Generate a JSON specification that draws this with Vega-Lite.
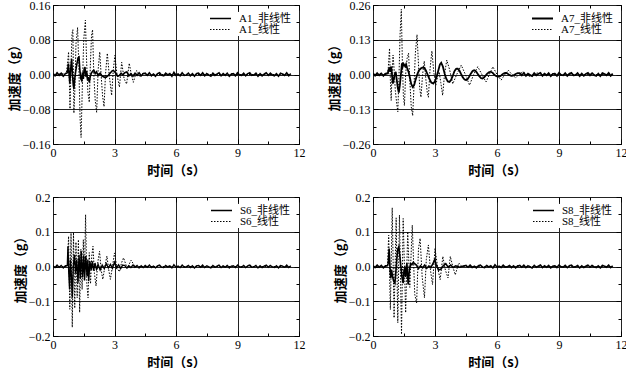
{
"$schema":"https://vega.github.io/schema/vega-lite/v6.json",
"padding":{"left":7,"top":-2,"right":4,"bottom":0},
"background":"white",
"columns":2,
"spacing":{"row":53,"column":74},
"bounds":"flush",
"resolve":{"scale":{"strokeDash":"independent","strokeWidth":"independent"},"legend":{"strokeDash":"independent","strokeWidth":"independent"}},
"config":{
 "view":{"stroke":"black","strokeWidth":1},
 "mark":{"invalid":"filter"},
 "axis":{"labelFont":"Liberation Serif","labelFontSize":12,"labelColor":"black","tickColor":"black","gridColor":"#222","gridWidth":1,"titleFont":"Noto Sans CJK SC","titleFontSize":13,"titleFontWeight":"bold","titleColor":"black","domain":false,"labelPadding":8,"labelFlush":false,"labelOverlap":false},
 "axisX":{"titlePadding":4},
 "axisY":{"titlePadding":1},
 "legend":{"orient":"top-right","offset":7,"padding":1,"fillColor":"white","labelFont":"Liberation Serif, Noto Sans CJK SC","labelFontSize":11,"labelColor":"black","symbolType":"stroke","symbolSize":441,"symbolStrokeColor":"black","labelOffset":7,"clipHeight":11,"rowPadding":-1}
},
"datasets":{
"A1":[
{"t":0,"n":0.002,"l":0},{"t":0.1,"n":-0.003},{"t":0.2,"n":0.004},{"t":0.3,"n":-0.002},{"t":0.4,"n":0.003},{"t":0.5,"n":-0.004},{"t":0.6,"n":0.002},
{"t":0.65,"l":0.002},{"t":0.72,"l":0.03},{"t":0.76,"l":0.052},{"t":0.80,"l":-0.02},{"t":0.83,"l":-0.079},{"t":0.88,"l":0.02},{"t":0.93,"l":0.095},{"t":0.97,"l":0.103},{"t":1.02,"l":-0.089},{"t":1.07,"l":-0.03},{"t":1.12,"l":0.07},{"t":1.20,"l":0.108},{"t":1.26,"l":0.02},{"t":1.32,"l":-0.10},{"t":1.37,"l":-0.145},{"t":1.43,"l":-0.03},{"t":1.50,"l":0.08},{"t":1.58,"l":0.125},{"t":1.64,"l":0.03},{"t":1.70,"l":-0.04},{"t":1.77,"l":-0.064},{"t":1.82,"l":0.02},{"t":1.88,"l":0.09},{"t":1.93,"l":0.103},{"t":1.99,"l":0.0},{"t":2.06,"l":-0.06},{"t":2.13,"l":-0.087},{"t":2.20,"l":0.01},{"t":2.28,"l":0.052},{"t":2.36,"l":-0.01},{"t":2.42,"l":-0.05},{"t":2.49,"l":-0.074},{"t":2.56,"l":0.0},{"t":2.65,"l":0.049},{"t":2.74,"l":0.0},{"t":2.86,"l":-0.048},{"t":2.94,"l":0.01},{"t":3.02,"l":0.044},{"t":3.12,"l":0.0},{"t":3.24,"l":-0.029},{"t":3.35,"l":0.028},{"t":3.47,"l":-0.01},{"t":3.59,"l":-0.022},{"t":3.72,"l":0.026},{"t":3.82,"l":0.0},{"t":3.92,"l":-0.018},{"t":4.08,"l":0.009},{"t":4.25,"l":-0.006},{"t":4.4,"l":0.004},{"t":4.5,"l":0},{"t":11.6,"l":0},
{"t":0.70,"n":0.004},{"t":0.75,"n":0.025},{"t":0.78,"n":0.005},{"t":0.82,"n":-0.02},{"t":0.86,"n":0.01},{"t":0.91,"n":0.036},{"t":0.95,"n":0.0},{"t":0.99,"n":-0.025},{"t":1.02,"n":-0.033},{"t":1.06,"n":-0.01},{"t":1.10,"n":0.005},{"t":1.15,"n":0.02},{"t":1.22,"n":0.038},{"t":1.27,"n":0.04},{"t":1.31,"n":0.01},{"t":1.36,"n":-0.01},{"t":1.40,"n":-0.014},{"t":1.44,"n":0.005},{"t":1.48,"n":-0.01},{"t":1.52,"n":0.012},{"t":1.56,"n":0.017},{"t":1.60,"n":-0.005},{"t":1.64,"n":0.008},{"t":1.68,"n":-0.012},{"t":1.72,"n":-0.006},{"t":1.77,"n":-0.018},{"t":1.82,"n":-0.004},{"t":1.88,"n":0.004},{"t":1.94,"n":0.008},{"t":2.00,"n":0.009},{"t":2.06,"n":0.002},{"t":2.12,"n":0.006},{"t":2.20,"n":-0.002},{"t":2.30,"n":0.003},{"t":2.40,"n":-0.004},{"t":2.50,"n":-0.006},{"t":2.60,"n":-0.006},{"t":2.70,"n":-0.002},{"t":2.80,"n":0.004},{"t":2.88,"n":0.008},{"t":2.94,"n":0.009},{"t":3.00,"n":0.007},{"t":3.08,"n":0.002},{"t":3.16,"n":-0.004},{"t":3.24,"n":-0.002},{"t":3.32,"n":0.003},{"t":3.40,"n":-0.001},{"t":3.50,"n":0.004},{"t":3.60,"n":0.006},{"t":3.70,"n":-0.003},{"t":3.80,"n":0.002},{"t":3.90,"n":-0.004},{"t":4.00,"n":0.003},{"t":4.10,"n":-0.002},{"t":4.20,"n":0.004},{"t":4.30,"n":-0.003},{"t":4.40,"n":0.002},
{"t":4.5,"n":0.003},{"t":4.6,"n":-0.002},{"t":4.7,"n":0.004},{"t":4.8,"n":-0.003},{"t":4.9,"n":0.001},{"t":5.0,"n":-0.004},{"t":5.1,"n":0.002},{"t":5.2,"n":0.004},{"t":5.3,"n":-0.002},{"t":5.4,"n":-0.003},{"t":5.5,"n":0.003},{"t":5.6,"n":-0.001},{"t":5.7,"n":0.002},{"t":5.8,"n":-0.004},{"t":5.9,"n":0.005},{"t":6.0,"n":-0.002},{"t":6.1,"n":0.001},{"t":6.2,"n":-0.003},{"t":6.3,"n":0.004},{"t":6.4,"n":-0.002},{"t":6.5,"n":-0.001},{"t":6.6,"n":0.003},{"t":6.7,"n":-0.003},{"t":6.8,"n":0.002},{"t":6.9,"n":-0.004},{"t":7.0,"n":0.002},{"t":7.1,"n":0.003},{"t":7.2,"n":-0.002},{"t":7.3,"n":0.004},{"t":7.4,"n":-0.003},{"t":7.5,"n":0.002},{"t":7.6,"n":-0.001},{"t":7.7,"n":-0.004},{"t":7.8,"n":0.003},{"t":7.9,"n":-0.002},{"t":8.0,"n":0.001},{"t":8.1,"n":0.004},{"t":8.2,"n":-0.003},{"t":8.3,"n":0.002},{"t":8.4,"n":-0.002},{"t":8.5,"n":0.003},{"t":8.6,"n":-0.004},{"t":8.7,"n":0.001},{"t":8.8,"n":0.002},{"t":8.9,"n":-0.003},{"t":9.0,"n":0.004},{"t":9.1,"n":-0.001},{"t":9.2,"n":-0.002},{"t":9.3,"n":0.003},{"t":9.4,"n":-0.003},{"t":9.5,"n":0.002},{"t":9.6,"n":0.004},{"t":9.7,"n":-0.002},{"t":9.8,"n":-0.001},{"t":9.9,"n":0.003},{"t":10.0,"n":-0.004},{"t":10.1,"n":0.002},{"t":10.2,"n":-0.003},{"t":10.3,"n":0.001},{"t":10.4,"n":0.004},{"t":10.5,"n":-0.002},{"t":10.6,"n":0.003},{"t":10.7,"n":-0.001},{"t":10.8,"n":-0.003},{"t":10.9,"n":0.002},{"t":11.0,"n":-0.004},{"t":11.1,"n":0.003},{"t":11.2,"n":0.001},{"t":11.3,"n":-0.002},{"t":11.4,"n":0.004},{"t":11.5,"n":-0.003},{"t":11.6,"n":0.002}
],
"A7":[
{"t":0,"n":0.004,"l":0},{"t":0.1,"n":-0.004},{"t":0.2,"n":0.005},{"t":0.3,"n":-0.003},{"t":0.4,"n":0.004},{"t":0.5,"n":-0.005},{"t":0.6,"n":0.003},
{"t":0.72,"l":0.0},{"t":0.76,"l":0.05},{"t":0.80,"l":0.098},{"t":0.84,"l":-0.02},{"t":0.88,"l":-0.097},{"t":0.92,"l":0.0},{"t":0.97,"l":0.073},{"t":1.02,"l":0.02},{"t":1.08,"l":-0.06},{"t":1.15,"l":-0.11},{"t":1.20,"l":-0.139},{"t":1.26,"l":0.0},{"t":1.31,"l":0.15},{"t":1.37,"l":0.244},{"t":1.42,"l":0.05},{"t":1.47,"l":-0.08},{"t":1.52,"l":-0.116},{"t":1.58,"l":0.0},{"t":1.65,"l":0.06},{"t":1.72,"l":0.08},{"t":1.78,"l":-0.02},{"t":1.85,"l":-0.12},{"t":1.92,"l":-0.154},{"t":1.98,"l":-0.05},{"t":2.05,"l":0.08},{"t":2.13,"l":0.149},{"t":2.20,"l":0.04},{"t":2.26,"l":-0.05},{"t":2.32,"l":-0.085},{"t":2.40,"l":0.0},{"t":2.48,"l":0.05},{"t":2.56,"l":-0.02},{"t":2.63,"l":-0.07},{"t":2.68,"l":-0.085},{"t":2.76,"l":0.02},{"t":2.85,"l":0.088},{"t":2.94,"l":0.01},{"t":3.04,"l":-0.04},{"t":3.12,"l":-0.01},{"t":3.20,"l":0.01},{"t":3.28,"l":-0.03},{"t":3.37,"l":-0.078},{"t":3.46,"l":0.0},{"t":3.57,"l":0.054},{"t":3.70,"l":0.02},{"t":3.86,"l":-0.035},{"t":4.05,"l":0.0},{"t":4.27,"l":0.035},{"t":4.47,"l":0.0},{"t":4.67,"l":-0.04},{"t":4.87,"l":0.0},{"t":5.07,"l":0.029},{"t":5.27,"l":0.0},{"t":5.47,"l":-0.028},{"t":5.63,"l":0.0},{"t":5.80,"l":0.029},{"t":6.00,"l":0.0},{"t":6.20,"l":-0.021},{"t":6.38,"l":0.0},{"t":6.55,"l":0.016},{"t":6.72,"l":0.0},{"t":6.90,"l":-0.012},{"t":7.07,"l":0.0},{"t":7.25,"l":0.01},{"t":7.43,"l":0.0},{"t":7.60,"l":-0.008},{"t":7.78,"l":0.0},{"t":7.95,"l":0.006},{"t":8.2,"l":0},{"t":11.6,"l":0},
{"t":0.72,"n":0.005},{"t":0.76,"n":0.02},{"t":0.80,"n":0.023},{"t":0.84,"n":0.01},{"t":0.88,"n":0.03},{"t":0.92,"n":0.0},{"t":0.96,"n":-0.034},{"t":1.00,"n":-0.02},{"t":1.05,"n":0.0},{"t":1.10,"n":0.01},{"t":1.15,"n":-0.02},{"t":1.20,"n":-0.05},{"t":1.25,"n":-0.068},{"t":1.30,"n":-0.04},{"t":1.35,"n":0.0},{"t":1.40,"n":0.042},{"t":1.44,"n":0.03},{"t":1.48,"n":0.04},{"t":1.52,"n":0.035},{"t":1.56,"n":0.03},{"t":1.60,"n":0.038},{"t":1.65,"n":0.025},{"t":1.72,"n":0.01},{"t":1.78,"n":-0.01},{"t":1.85,"n":-0.035},{"t":1.92,"n":-0.047},{"t":1.99,"n":-0.04},{"t":2.06,"n":-0.02},{"t":2.14,"n":0.0},{"t":2.22,"n":0.015},{"t":2.32,"n":0.023},{"t":2.40,"n":0.026},{"t":2.48,"n":0.025},{"t":2.56,"n":0.015},{"t":2.64,"n":0.0},{"t":2.72,"n":-0.015},{"t":2.82,"n":-0.03},{"t":2.92,"n":-0.034},{"t":3.00,"n":-0.025},{"t":3.08,"n":-0.008},{"t":3.16,"n":0.015},{"t":3.24,"n":0.038},{"t":3.30,"n":0.044},{"t":3.38,"n":0.03},{"t":3.46,"n":0.005},{"t":3.54,"n":-0.015},{"t":3.62,"n":-0.026},{"t":3.70,"n":-0.028},{"t":3.78,"n":-0.02},{"t":3.86,"n":-0.005},{"t":3.94,"n":0.012},{"t":4.02,"n":0.021},{"t":4.10,"n":0.022},{"t":4.18,"n":0.015},{"t":4.26,"n":0.002},{"t":4.34,"n":-0.01},{"t":4.42,"n":-0.018},{"t":4.50,"n":-0.021},{"t":4.58,"n":-0.017},{"t":4.66,"n":-0.007},{"t":4.74,"n":0.004},{"t":4.82,"n":0.013},{"t":4.90,"n":0.016},{"t":4.98,"n":0.012},{"t":5.06,"n":0.003},{"t":5.14,"n":-0.006},{"t":5.22,"n":-0.013},{"t":5.30,"n":-0.015},{"t":5.38,"n":-0.011},{"t":5.46,"n":-0.003},{"t":5.54,"n":0.004},{"t":5.62,"n":0.009},{"t":5.70,"n":0.01},{"t":5.78,"n":0.007},{"t":5.86,"n":0.0},{"t":5.94,"n":-0.005},{"t":6.02,"n":-0.008},{"t":6.10,"n":-0.008},{"t":6.20,"n":-0.004},{"t":6.30,"n":0.003},{"t":6.40,"n":0.006},{"t":6.50,"n":0.004},{"t":6.60,"n":-0.002},{"t":6.70,"n":-0.005},{"t":6.80,"n":-0.003},{"t":6.90,"n":0.002},{"t":7.00,"n":0.005},
{"t":7.1,"n":0.005},{"t":7.2,"n":-0.003},{"t":7.3,"n":0.006},{"t":7.4,"n":-0.005},{"t":7.5,"n":0.003},{"t":7.6,"n":-0.002},{"t":7.7,"n":-0.006},{"t":7.8,"n":0.005},{"t":7.9,"n":-0.003},{"t":8.0,"n":0.002},{"t":8.1,"n":0.006},{"t":8.2,"n":-0.005},{"t":8.3,"n":0.003},{"t":8.4,"n":-0.003},{"t":8.5,"n":0.005},{"t":8.6,"n":-0.006},{"t":8.7,"n":0.002},{"t":8.8,"n":0.003},{"t":8.9,"n":-0.005},{"t":9.0,"n":0.006},{"t":9.1,"n":-0.002},{"t":9.2,"n":-0.003},{"t":9.3,"n":0.005},{"t":9.4,"n":-0.005},{"t":9.5,"n":0.003},{"t":9.6,"n":0.006},{"t":9.7,"n":-0.003},{"t":9.8,"n":-0.002},{"t":9.9,"n":0.005},{"t":10.0,"n":-0.006},{"t":10.1,"n":0.003},{"t":10.2,"n":-0.005},{"t":10.3,"n":0.002},{"t":10.4,"n":0.006},{"t":10.5,"n":-0.003},{"t":10.6,"n":0.005},{"t":10.7,"n":-0.002},{"t":10.8,"n":-0.005},{"t":10.9,"n":0.003},{"t":11.0,"n":-0.006},{"t":11.1,"n":0.005},{"t":11.2,"n":0.002},{"t":11.3,"n":-0.003},{"t":11.4,"n":0.006},{"t":11.5,"n":-0.005},{"t":11.6,"n":0.003}
],
"S6":[
{"t":0,"n":0.002,"l":0},{"t":0.1,"n":-0.003},{"t":0.2,"n":0.004},{"t":0.3,"n":-0.002},{"t":0.4,"n":0.003},{"t":0.5,"n":-0.004},{"t":0.6,"n":0.002},
{"t":0.70,"l":0.0},{"t":0.76,"l":0.087},{"t":0.82,"l":-0.123},{"t":0.88,"l":0.096},{"t":0.94,"l":-0.175},{"t":1.00,"l":0.098},{"t":1.06,"l":-0.12},{"t":1.12,"l":0.07},{"t":1.18,"l":-0.09},{"t":1.24,"l":0.077},{"t":1.30,"l":-0.132},{"t":1.36,"l":0.05},{"t":1.42,"l":-0.066},{"t":1.48,"l":0.077},{"t":1.53,"l":-0.04},{"t":1.59,"l":0.149},{"t":1.65,"l":-0.05},{"t":1.71,"l":-0.09},{"t":1.77,"l":0.04},{"t":1.83,"l":-0.05},{"t":1.89,"l":0.03},{"t":1.95,"l":0.058},{"t":2.02,"l":-0.02},{"t":2.10,"l":-0.056},{"t":2.18,"l":0.01},{"t":2.27,"l":0.044},{"t":2.35,"l":-0.01},{"t":2.43,"l":-0.037},{"t":2.53,"l":0.0},{"t":2.63,"l":0.03},{"t":2.72,"l":-0.01},{"t":2.80,"l":-0.037},{"t":2.90,"l":0.0},{"t":3.00,"l":0.039},{"t":3.12,"l":-0.005},{"t":3.24,"l":-0.015},{"t":3.34,"l":0.01},{"t":3.44,"l":0.025},{"t":3.62,"l":-0.005},{"t":3.81,"l":0.018},{"t":4.0,"l":0.0},{"t":11.6,"l":0},
{"t":0.70,"n":0.003},{"t":0.73,"n":0.058},{"t":0.77,"n":-0.02},{"t":0.81,"n":-0.066},{"t":0.85,"n":0.02},{"t":0.90,"n":-0.03},{"t":0.94,"n":-0.09},{"t":0.99,"n":0.0},{"t":1.05,"n":0.034},{"t":1.10,"n":-0.02},{"t":1.16,"n":0.02},{"t":1.22,"n":-0.047},{"t":1.27,"n":0.034},{"t":1.33,"n":-0.035},{"t":1.38,"n":0.044},{"t":1.44,"n":-0.03},{"t":1.50,"n":0.03},{"t":1.54,"n":-0.04},{"t":1.60,"n":0.03},{"t":1.66,"n":-0.028},{"t":1.70,"n":0.02},{"t":1.74,"n":-0.042},{"t":1.80,"n":0.015},{"t":1.86,"n":-0.01},{"t":1.92,"n":0.015},{"t":1.98,"n":-0.012},{"t":2.05,"n":0.01},{"t":2.12,"n":-0.008},{"t":2.20,"n":0.006},{"t":2.30,"n":-0.01},{"t":2.40,"n":0.004},{"t":2.50,"n":-0.006},{"t":2.60,"n":0.008},{"t":2.70,"n":-0.004},{"t":2.80,"n":0.006},{"t":2.90,"n":-0.005},{"t":3.00,"n":0.012},{"t":3.10,"n":-0.004},{"t":3.20,"n":0.005},{"t":3.30,"n":-0.006},{"t":3.40,"n":0.004},
{"t":3.5,"n":0.003},{"t":3.6,"n":-0.004},{"t":3.7,"n":0.002},{"t":3.8,"n":-0.003},{"t":3.9,"n":0.004},{"t":4.0,"n":-0.002},{"t":4.1,"n":0.003},{"t":4.2,"n":-0.004},{"t":4.3,"n":0.002},{"t":4.4,"n":-0.003},
{"t":4.5,"n":0.003},{"t":4.6,"n":-0.002},{"t":4.7,"n":0.004},{"t":4.8,"n":-0.003},{"t":4.9,"n":0.001},{"t":5.0,"n":-0.004},{"t":5.1,"n":0.002},{"t":5.2,"n":0.004},{"t":5.3,"n":-0.002},{"t":5.4,"n":-0.003},{"t":5.5,"n":0.003},{"t":5.6,"n":-0.001},{"t":5.7,"n":0.002},{"t":5.8,"n":-0.004},{"t":5.9,"n":0.005},{"t":6.0,"n":-0.002},{"t":6.1,"n":0.001},{"t":6.2,"n":-0.003},{"t":6.3,"n":0.004},{"t":6.4,"n":-0.002},{"t":6.5,"n":-0.001},{"t":6.6,"n":0.003},{"t":6.7,"n":-0.003},{"t":6.8,"n":0.002},{"t":6.9,"n":-0.004},{"t":7.0,"n":0.002},{"t":7.1,"n":0.003},{"t":7.2,"n":-0.002},{"t":7.3,"n":0.004},{"t":7.4,"n":-0.003},{"t":7.5,"n":0.002},{"t":7.6,"n":-0.001},{"t":7.7,"n":-0.004},{"t":7.8,"n":0.003},{"t":7.9,"n":-0.002},{"t":8.0,"n":0.001},{"t":8.1,"n":0.004},{"t":8.2,"n":-0.003},{"t":8.3,"n":0.002},{"t":8.4,"n":-0.002},{"t":8.5,"n":0.003},{"t":8.6,"n":-0.004},{"t":8.7,"n":0.001},{"t":8.8,"n":0.002},{"t":8.9,"n":-0.003},{"t":9.0,"n":0.004},{"t":9.1,"n":-0.001},{"t":9.2,"n":-0.002},{"t":9.3,"n":0.003},{"t":9.4,"n":-0.003},{"t":9.5,"n":0.002},{"t":9.6,"n":0.004},{"t":9.7,"n":-0.002},{"t":9.8,"n":-0.001},{"t":9.9,"n":0.003},{"t":10.0,"n":-0.004},{"t":10.1,"n":0.002},{"t":10.2,"n":-0.003},{"t":10.3,"n":0.001},{"t":10.4,"n":0.004},{"t":10.5,"n":-0.002},{"t":10.6,"n":0.003},{"t":10.7,"n":-0.001},{"t":10.8,"n":-0.003},{"t":10.9,"n":0.002},{"t":11.0,"n":-0.004},{"t":11.1,"n":0.003},{"t":11.2,"n":0.001},{"t":11.3,"n":-0.002},{"t":11.4,"n":0.004},{"t":11.5,"n":-0.003},{"t":11.6,"n":0.002}
],
"S8":[
{"t":0,"n":0.002,"l":0},{"t":0.1,"n":-0.003},{"t":0.2,"n":0.004},{"t":0.3,"n":-0.002},{"t":0.4,"n":0.003},{"t":0.5,"n":-0.004},{"t":0.6,"n":0.002},
{"t":0.70,"l":0.0},{"t":0.76,"l":0.09},{"t":0.84,"l":-0.124},{"t":0.93,"l":0.169},{"t":1.02,"l":-0.148},{"t":1.12,"l":0.14},{"t":1.20,"l":-0.162},{"t":1.28,"l":0.148},{"t":1.38,"l":-0.195},{"t":1.46,"l":0.138},{"t":1.58,"l":-0.133},{"t":1.68,"l":0.1},{"t":1.78,"l":-0.06},{"t":1.90,"l":0.119},{"t":2.02,"l":-0.08},{"t":2.11,"l":-0.105},{"t":2.20,"l":0.05},{"t":2.28,"l":0.081},{"t":2.38,"l":-0.03},{"t":2.49,"l":-0.09},{"t":2.58,"l":0.02},{"t":2.68,"l":0.062},{"t":2.78,"l":-0.01},{"t":2.88,"l":-0.052},{"t":3.00,"l":0.052},{"t":3.12,"l":0.0},{"t":3.25,"l":-0.038},{"t":3.38,"l":0.029},{"t":3.50,"l":-0.01},{"t":3.63,"l":-0.033},{"t":3.74,"l":0.029},{"t":3.86,"l":0.0},{"t":3.98,"l":-0.024},{"t":4.15,"l":0.01},{"t":4.3,"l":0.0},{"t":11.6,"l":0},
{"t":0.70,"n":0.002},{"t":0.74,"n":0.01},{"t":0.78,"n":0.052},{"t":0.82,"n":0.0},{"t":0.86,"n":-0.033},{"t":0.90,"n":-0.01},{"t":0.95,"n":-0.03},{"t":1.00,"n":-0.042},{"t":1.06,"n":-0.048},{"t":1.10,"n":-0.02},{"t":1.15,"n":0.02},{"t":1.20,"n":0.05},{"t":1.25,"n":0.057},{"t":1.30,"n":0.03},{"t":1.35,"n":0.0},{"t":1.40,"n":-0.03},{"t":1.46,"n":-0.048},{"t":1.50,"n":-0.01},{"t":1.54,"n":-0.005},{"t":1.58,"n":-0.03},{"t":1.64,"n":0.01},{"t":1.70,"n":-0.052},{"t":1.76,"n":-0.01},{"t":1.82,"n":0.008},{"t":1.88,"n":0.005},{"t":1.95,"n":0.012},{"t":2.02,"n":0.008},{"t":2.10,"n":0.004},{"t":2.20,"n":-0.006},{"t":2.30,"n":0.002},{"t":2.40,"n":-0.004},{"t":2.50,"n":0.004},{"t":2.60,"n":-0.005},{"t":2.70,"n":0.001},{"t":2.80,"n":-0.003},{"t":2.90,"n":0.008},{"t":2.98,"n":0.019},{"t":3.06,"n":0.005},{"t":3.17,"n":-0.01},{"t":3.28,"n":-0.008},{"t":3.40,"n":0.002},{"t":3.52,"n":0.008},{"t":3.64,"n":-0.002},{"t":3.76,"n":0.004},{"t":3.88,"n":-0.003},{"t":4.00,"n":0.002},{"t":4.2,"n":-0.002},{"t":4.4,"n":0.002},
{"t":4.5,"n":0.003},{"t":4.6,"n":-0.002},{"t":4.7,"n":0.004},{"t":4.8,"n":-0.003},{"t":4.9,"n":0.001},{"t":5.0,"n":-0.004},{"t":5.1,"n":0.002},{"t":5.2,"n":0.004},{"t":5.3,"n":-0.002},{"t":5.4,"n":-0.003},{"t":5.5,"n":0.003},{"t":5.6,"n":-0.001},{"t":5.7,"n":0.002},{"t":5.8,"n":-0.004},{"t":5.9,"n":0.005},{"t":6.0,"n":-0.002},{"t":6.1,"n":0.001},{"t":6.2,"n":-0.003},{"t":6.3,"n":0.004},{"t":6.4,"n":-0.002},{"t":6.5,"n":-0.001},{"t":6.6,"n":0.003},{"t":6.7,"n":-0.003},{"t":6.8,"n":0.002},{"t":6.9,"n":-0.004},{"t":7.0,"n":0.002},{"t":7.1,"n":0.003},{"t":7.2,"n":-0.002},{"t":7.3,"n":0.004},{"t":7.4,"n":-0.003},{"t":7.5,"n":0.002},{"t":7.6,"n":-0.001},{"t":7.7,"n":-0.004},{"t":7.8,"n":0.003},{"t":7.9,"n":-0.002},{"t":8.0,"n":0.001},{"t":8.1,"n":0.004},{"t":8.2,"n":-0.003},{"t":8.3,"n":0.002},{"t":8.4,"n":-0.002},{"t":8.5,"n":0.003},{"t":8.6,"n":-0.004},{"t":8.7,"n":0.001},{"t":8.8,"n":0.002},{"t":8.9,"n":-0.003},{"t":9.0,"n":0.004},{"t":9.1,"n":-0.001},{"t":9.2,"n":-0.002},{"t":9.3,"n":0.003},{"t":9.4,"n":-0.003},{"t":9.5,"n":0.002},{"t":9.6,"n":0.004},{"t":9.7,"n":-0.002},{"t":9.8,"n":-0.001},{"t":9.9,"n":0.003},{"t":10.0,"n":-0.004},{"t":10.1,"n":0.002},{"t":10.2,"n":-0.003},{"t":10.3,"n":0.001},{"t":10.4,"n":0.004},{"t":10.5,"n":-0.002},{"t":10.6,"n":0.003},{"t":10.7,"n":-0.001},{"t":10.8,"n":-0.003},{"t":10.9,"n":0.002},{"t":11.0,"n":-0.004},{"t":11.1,"n":0.003},{"t":11.2,"n":0.001},{"t":11.3,"n":-0.002},{"t":11.4,"n":0.004},{"t":11.5,"n":-0.003},{"t":11.6,"n":0.002}
]
},
"concat":[
{"width":246,"height":139,"data":{"name":"A1"},"transform":[{"fold":["n","l"],"as":["k","a"]},{"filter":"isValid(datum.a)"}],
 "layer":[
  {"mark":{"type":"line","color":"black","clip":true},
   "encoding":{
    "x":{"field":"t","type":"quantitative","scale":{"domain":[0,12],"nice":false},"axis":{"orient":"bottom","title":"时间（s）","values":[0,1.5,3,4.5,6,7.5,9,10.5,12],"labelExpr":"datum.value % 3 == 0 ? datum.label : ''","gridOpacity":{"condition":{"test":"datum.value % 3 != 0","value":0},"value":1},"tickSize":{"condition":{"test":"datum.value % 3 != 0","value":-3},"value":-5}}},
    "y":{"field":"a","type":"quantitative","scale":{"domain":[-0.16,0.16],"nice":false},"axis":{"orient":"left","title":"加速度（g）","format":".2f","values":[-0.16,-0.12,-0.08,-0.04,0,0.04,0.08,0.12,0.16],"labelExpr":"abs(datum.value/0.08-round(datum.value/0.08))>0.01 ? '' : datum.label","gridOpacity":{"condition":{"test":"abs(datum.value/0.08-round(datum.value/0.08))>0.01","value":0},"value":1},"tickSize":{"condition":{"test":"abs(datum.value/0.08-round(datum.value/0.08))>0.01","value":-3},"value":-5}}},
    "strokeDash":{"field":"k","type":"nominal","scale":{"domain":["n","l"],"range":[[1,0],[1.5,1.5]]},"legend":{"title":null,"labelExpr":"datum.value=='n' ? 'A1_非线性' : 'A1_线性'"}},
    "strokeWidth":{"field":"k","type":"nominal","scale":{"domain":["n","l"],"range":[1.6,1]},"legend":{"title":null,"labelExpr":"datum.value=='n' ? 'A1_非线性' : 'A1_线性'"}}
   }},
  {"mark":{"type":"point","opacity":0},
   "encoding":{
    "x":{"field":"t","type":"quantitative","axis":{"orient":"top","labels":false,"title":null,"grid":false,"values":[0,1.5,3,4.5,6,7.5,9,10.5,12],"tickSize":{"condition":{"test":"datum.value % 3 != 0","value":-3},"value":-5}}},
    "y":{"field":"a","type":"quantitative","axis":{"orient":"right","labels":false,"title":null,"grid":false,"values":[-0.16,-0.12,-0.08,-0.04,0,0.04,0.08,0.12,0.16],"tickSize":{"condition":{"test":"abs(datum.value/0.08-round(datum.value/0.08))>0.01","value":-3},"value":-5}}}
   }}
 ],
 "resolve":{"axis":{"x":"independent","y":"independent"}}
},
{"width":248,"height":139,"data":{"name":"A7"},"transform":[{"fold":["n","l"],"as":["k","a"]},{"filter":"isValid(datum.a)"}],
 "layer":[
  {"mark":{"type":"line","color":"black","clip":true},
   "encoding":{
    "x":{"field":"t","type":"quantitative","scale":{"domain":[0,12],"nice":false},"axis":{"orient":"bottom","title":"时间（s）","values":[0,1.5,3,4.5,6,7.5,9,10.5,12],"labelExpr":"datum.value % 3 == 0 ? datum.label : ''","gridOpacity":{"condition":{"test":"datum.value % 3 != 0","value":0},"value":1},"tickSize":{"condition":{"test":"datum.value % 3 != 0","value":-3},"value":-5}}},
    "y":{"field":"a","type":"quantitative","scale":{"domain":[-0.26,0.26],"nice":false},"axis":{"orient":"left","title":"加速度（g）","format":".2f","values":[-0.26,-0.195,-0.13,-0.065,0,0.065,0.13,0.195,0.26],"labelExpr":"abs(datum.value/0.13-round(datum.value/0.13))>0.01 ? '' : datum.label","gridOpacity":{"condition":{"test":"abs(datum.value/0.13-round(datum.value/0.13))>0.01","value":0},"value":1},"tickSize":{"condition":{"test":"abs(datum.value/0.13-round(datum.value/0.13))>0.01","value":-3},"value":-5}}},
    "strokeDash":{"field":"k","type":"nominal","scale":{"domain":["n","l"],"range":[[1,0],[1.5,1.5]]},"legend":{"title":null,"labelExpr":"datum.value=='n' ? 'A7_非线性' : 'A7_线性'"}},
    "strokeWidth":{"field":"k","type":"nominal","scale":{"domain":["n","l"],"range":[1.8,1]},"legend":{"title":null,"labelExpr":"datum.value=='n' ? 'A7_非线性' : 'A7_线性'"}}
   }},
  {"mark":{"type":"point","opacity":0},
   "encoding":{
    "x":{"field":"t","type":"quantitative","axis":{"orient":"top","labels":false,"title":null,"grid":false,"values":[0,1.5,3,4.5,6,7.5,9,10.5,12],"tickSize":{"condition":{"test":"datum.value % 3 != 0","value":-3},"value":-5}}},
    "y":{"field":"a","type":"quantitative","axis":{"orient":"right","labels":false,"title":null,"grid":false,"values":[-0.26,-0.195,-0.13,-0.065,0,0.065,0.13,0.195,0.26],"tickSize":{"condition":{"test":"abs(datum.value/0.13-round(datum.value/0.13))>0.01","value":-3},"value":-5}}}
   }}
 ],
 "resolve":{"axis":{"x":"independent","y":"independent"}}
},
{"width":246,"height":139,"data":{"name":"S6"},"transform":[{"fold":["n","l"],"as":["k","a"]},{"filter":"isValid(datum.a)"}],
 "layer":[
  {"mark":{"type":"line","color":"black","clip":true},
   "encoding":{
    "x":{"field":"t","type":"quantitative","scale":{"domain":[0,12],"nice":false},"axis":{"orient":"bottom","title":"时间（s）","values":[0,1.5,3,4.5,6,7.5,9,10.5,12],"labelExpr":"datum.value % 3 == 0 ? datum.label : ''","gridOpacity":{"condition":{"test":"datum.value % 3 != 0","value":0},"value":1},"tickSize":{"condition":{"test":"datum.value % 3 != 0","value":-3},"value":-5}}},
    "y":{"field":"a","type":"quantitative","scale":{"domain":[-0.2,0.2],"nice":false},"axis":{"orient":"left","title":"加速度（g）","format":".1f","values":[-0.2,-0.15,-0.1,-0.05,0,0.05,0.1,0.15,0.2],"labelExpr":"abs(datum.value/0.1-round(datum.value/0.1))>0.01 ? '' : datum.label","gridOpacity":{"condition":{"test":"abs(datum.value/0.1-round(datum.value/0.1))>0.01","value":0},"value":1},"tickSize":{"condition":{"test":"abs(datum.value/0.1-round(datum.value/0.1))>0.01","value":-3},"value":-5}}},
    "strokeDash":{"field":"k","type":"nominal","scale":{"domain":["n","l"],"range":[[1,0],[1.5,1.5]]},"legend":{"title":null,"labelExpr":"datum.value=='n' ? 'S6_非线性' : 'S6_线性'"}},
    "strokeWidth":{"field":"k","type":"nominal","scale":{"domain":["n","l"],"range":[1.4,1]},"legend":{"title":null,"labelExpr":"datum.value=='n' ? 'S6_非线性' : 'S6_线性'"}}
   }},
  {"mark":{"type":"point","opacity":0},
   "encoding":{
    "x":{"field":"t","type":"quantitative","axis":{"orient":"top","labels":false,"title":null,"grid":false,"values":[0,1.5,3,4.5,6,7.5,9,10.5,12],"tickSize":{"condition":{"test":"datum.value % 3 != 0","value":-3},"value":-5}}},
    "y":{"field":"a","type":"quantitative","axis":{"orient":"right","labels":false,"title":null,"grid":false,"values":[-0.2,-0.15,-0.1,-0.05,0,0.05,0.1,0.15,0.2],"tickSize":{"condition":{"test":"abs(datum.value/0.1-round(datum.value/0.1))>0.01","value":-3},"value":-5}}}
   }}
 ],
 "resolve":{"axis":{"x":"independent","y":"independent"}}
},
{"width":248,"height":139,"data":{"name":"S8"},"transform":[{"fold":["n","l"],"as":["k","a"]},{"filter":"isValid(datum.a)"}],
 "layer":[
  {"mark":{"type":"line","color":"black","clip":true},
   "encoding":{
    "x":{"field":"t","type":"quantitative","scale":{"domain":[0,12],"nice":false},"axis":{"orient":"bottom","title":"时间（s）","values":[0,1.5,3,4.5,6,7.5,9,10.5,12],"labelExpr":"datum.value % 3 == 0 ? datum.label : ''","gridOpacity":{"condition":{"test":"datum.value % 3 != 0","value":0},"value":1},"tickSize":{"condition":{"test":"datum.value % 3 != 0","value":-3},"value":-5}}},
    "y":{"field":"a","type":"quantitative","scale":{"domain":[-0.2,0.2],"nice":false},"axis":{"orient":"left","title":"加速度（g）","format":".1f","values":[-0.2,-0.15,-0.1,-0.05,0,0.05,0.1,0.15,0.2],"labelExpr":"abs(datum.value/0.1-round(datum.value/0.1))>0.01 ? '' : datum.label","gridOpacity":{"condition":{"test":"abs(datum.value/0.1-round(datum.value/0.1))>0.01","value":0},"value":1},"tickSize":{"condition":{"test":"abs(datum.value/0.1-round(datum.value/0.1))>0.01","value":-3},"value":-5}}},
    "strokeDash":{"field":"k","type":"nominal","scale":{"domain":["n","l"],"range":[[1,0],[1.5,1.5]]},"legend":{"title":null,"labelExpr":"datum.value=='n' ? 'S8_非线性' : 'S8_线性'"}},
    "strokeWidth":{"field":"k","type":"nominal","scale":{"domain":["n","l"],"range":[1.6,1]},"legend":{"title":null,"labelExpr":"datum.value=='n' ? 'S8_非线性' : 'S8_线性'"}}
   }},
  {"mark":{"type":"point","opacity":0},
   "encoding":{
    "x":{"field":"t","type":"quantitative","axis":{"orient":"top","labels":false,"title":null,"grid":false,"values":[0,1.5,3,4.5,6,7.5,9,10.5,12],"tickSize":{"condition":{"test":"datum.value % 3 != 0","value":-3},"value":-5}}},
    "y":{"field":"a","type":"quantitative","axis":{"orient":"right","labels":false,"title":null,"grid":false,"values":[-0.2,-0.15,-0.1,-0.05,0,0.05,0.1,0.15,0.2],"tickSize":{"condition":{"test":"abs(datum.value/0.1-round(datum.value/0.1))>0.01","value":-3},"value":-5}}}
   }}
 ],
 "resolve":{"axis":{"x":"independent","y":"independent"}}
}
]
}
